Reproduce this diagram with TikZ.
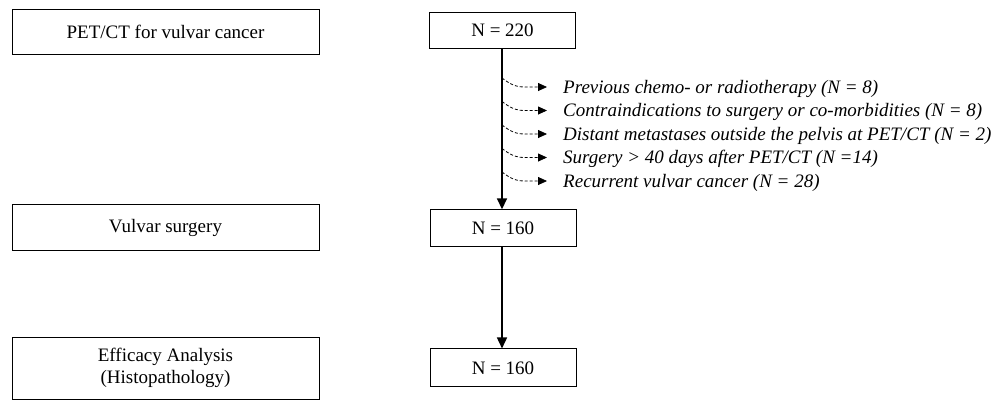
\documentclass[tikz,border=0pt]{standalone}
\usepackage{fontspec}
\setmainfont{Liberation Serif}
\usetikzlibrary{arrows.meta}
\begin{document}
\begin{tikzpicture}[x=1pt,y=-1pt,
  font=\fontsize{19}{22}\selectfont,
  lbox/.style={draw, line width=1pt, minimum width=307pt, inner sep=0pt, align=center},
  nbox/.style={draw, line width=1pt, minimum width=146pt, minimum height=37pt, inner sep=0pt},
  mainarr/.style={line width=1.6pt, -{Triangle[length=11pt,width=10pt]}},
  exarr/.style={line width=0.8pt, dash pattern=on 3pt off 2pt, -{Triangle[length=9pt,width=8pt]}},
  exlab/.style={anchor=base west, inner sep=0pt, font=\fontsize{19}{22}\selectfont\itshape}]
\useasboundingbox (0,0) rectangle (1003,400);
% left column
\node[lbox, minimum height=45pt] (b1) at (165.5,31.8) {PET/CT for vulvar cancer};
\node[lbox, minimum height=46.4pt] (b2) at (165.5,227.5) {Vulvar surgery};
\node[lbox, minimum height=62pt] (b3) at (165.5,368) {Efficacy Analysis\\(Histopathology)};
% right column
\node[nbox, minimum height=36pt] (n1) at (502.5,30.3) {N = 220};
\node[nbox] (n2) at (503,228.3) {N = 160};
\node[nbox, minimum height=37.7pt] (n3) at (503,367.8) {N = 160};
\draw[mainarr] (n1.south -| 502,0) -- (n2.north -| 502,0);
\draw[mainarr] (n2.south -| 502,0) -- (n3.north -| 502,0);
% exclusions
\foreach \i/\y/\t in {1/87/{Previous chemo- or radiotherapy (N = 8)},
                      2/110.5/{Contraindications to surgery or co-morbidities (N = 8)},
                      3/134/{Distant metastases outside the pelvis at PET/CT (N = 2)},
                      4/157.5/{Surgery > 40 days after PET/CT (N =14)},
                      5/181/{Recurrent vulvar cancer (N = 28)}}{
  \coordinate (s\i) at (502,\y-9);
  \node[exlab] (e\i) at (563,\y+6.3) {\t};
  \draw[exarr] (s\i) .. controls (510,\y-3) and (515,\y) .. (525,\y) -- (547,\y);
}
\end{tikzpicture}
\end{document}
